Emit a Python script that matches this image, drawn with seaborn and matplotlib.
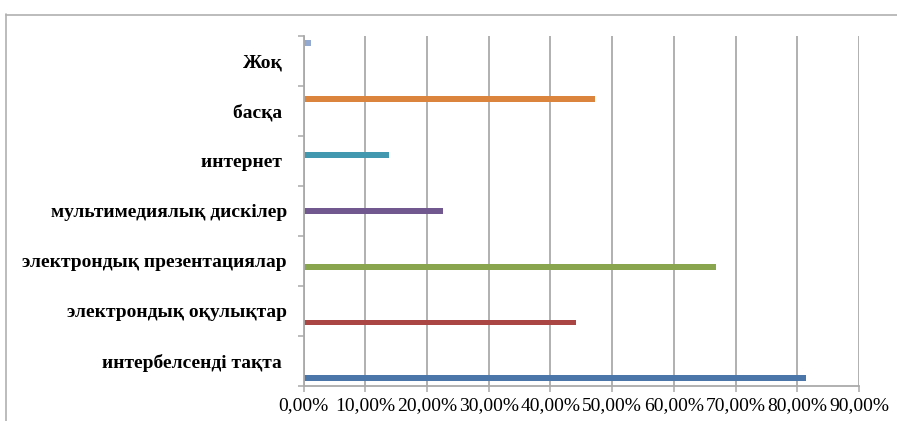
import matplotlib
matplotlib.use("Agg")
import matplotlib.pyplot as plt
from matplotlib.lines import Line2D
from matplotlib.ticker import FixedLocator, FuncFormatter
import seaborn as sns
import pandas as pd

# Categories listed top to bottom as they appear on the chart
categories = [
    "Жоқ ",
    "басқа ",
    "интернет ",
    "мультимедиялық дискілер",
    "электрондық презентациялар",
    "электрондық оқулықтар",
    "интербелсенді тақта ",
]
values = [0.012, 0.472, 0.139, 0.226, 0.669, 0.441, 0.814]
colors = ["#93A9CF", "#DB843D", "#4198AF", "#71588F", "#89A54E", "#AA4643", "#4A76AA"]
x_ticks = [0.0, 0.1, 0.2, 0.3, 0.4, 0.5, 0.6, 0.7, 0.8, 0.9]

df = pd.DataFrame({"category": categories, "series": categories, "value": values})

sns.set_theme(style="white")
plt.rcParams["font.family"] = ["Liberation Serif", "DejaVu Serif"]

W, H = 897, 421
fig = plt.figure(figsize=(W / 100, H / 100), dpi=100)
ax = fig.add_axes([303.5 / W, 1 - 385.7 / H, (859 - 303.5) / W, (385.7 - 35.7) / H])

sns.barplot(
    data=df, y="category", x="value", hue="series",
    order=categories, hue_order=categories,
    palette=colors, dodge=True, width=7 / 8.5,
    errorbar=None, saturation=1, legend=False, orient="h", ax=ax,
)
for patch in ax.patches:
    patch.set_edgecolor("none")

grid_c = "#aaaaaa"
ax.set_xlim(0, 0.9)
ax.set_ylim(6.5, -0.5)
ax.xaxis.set_major_locator(FixedLocator(x_ticks))
ax.xaxis.set_major_formatter(FuncFormatter(lambda v, _: f"{v * 100:.2f}".replace(".", ",") + "%"))
ax.grid(axis="x", color=grid_c, linewidth=1.3)
ax.set_axisbelow(True)

# category labels centred, tick marks on the category boundaries
ax.set_yticks(range(len(categories)))
ax.set_yticklabels(categories, fontweight="bold", fontsize=14)
ax.yaxis.set_minor_locator(FixedLocator([i - 0.5 for i in range(len(categories) + 1)]))
ax.tick_params(axis="y", which="major", length=0, pad=12)
ax.tick_params(axis="y", which="minor", left=True, length=4.5, width=1.1, color=grid_c)
ax.tick_params(axis="x", which="major", bottom=True, length=4, width=1.1, color=grid_c,
               labelsize=14, pad=4, labelcolor="black")
ax.tick_params(axis="y", labelcolor="black")

ax.set_xlabel("")
ax.set_ylabel("")
for side in ["top", "right"]:
    ax.spines[side].set_visible(False)
for side in ["left", "bottom"]:
    ax.spines[side].set_color(grid_c)
    ax.spines[side].set_linewidth(1.3)

# chart area frame
fig.add_artist(Line2D([5.5 / W, 5.5 / W], [0, 1 - 14 / H], color="#b0b0b0", linewidth=1.2))
fig.add_artist(Line2D([5.5 / W, 1], [1 - 14.5 / H, 1 - 14.5 / H], color="#b0b0b0", linewidth=1.2))

fig.savefig("out.png", dpi=100)
